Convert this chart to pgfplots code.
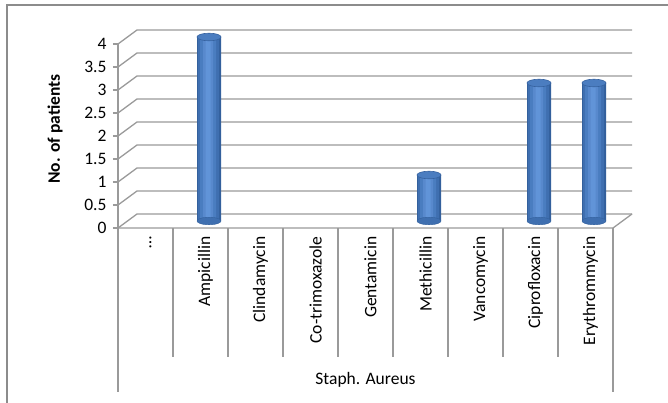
\documentclass[border=0pt]{standalone}
\usepackage{fontspec}
\setmainfont{Carlito}
\usepackage{pgfplots}
\usepackage{pgfplotstable}
\pgfplotsset{compat=1.18}
\definecolor{gridc}{HTML}{9A9A9A}
\definecolor{framec}{HTML}{8C8C8C}
\definecolor{cyl1}{HTML}{33609C}
\definecolor{cyl2}{HTML}{3F6FB0}
\definecolor{cyl3}{HTML}{4A7DC0}
\definecolor{cyl4}{HTML}{5889CD}
\definecolor{cyl5}{HTML}{6194D8}
\definecolor{cylT}{HTML}{4B7DC0}
\definecolor{cylE}{HTML}{36629F}
\pgfdeclareplotmark{cyltop}{\pgfpathellipse{\pgfpointorigin}{\pgfqpoint{12bp}{0pt}}{\pgfqpoint{0pt}{3.8bp}}\pgfusepathqfillstroke}
\newcommand{\cfont}{\fontsize{17.5bp}{21bp}\selectfont}

\pgfplotstableread{
x y
0.5 0
1.5 4
2.5 0
3.5 0
4.5 0
5.5 1
6.5 0
7.5 3
8.5 3
}\datatable

\begin{document}
\begin{tikzpicture}[font=\cfont]
\begin{axis}[
  x=55bp, y=46bp, scale only axis,
  xmin=0, xmax=9.35, ymin=0, ymax=4.3,
  axis line style={draw=none},
  clip=false,
  /pgf/number format/assume math mode=true,
  tick label style={font=\cfont},
  label style={font=\cfont},
  ytick={0,0.5,1,1.5,2,2.5,3,3.5,4},
  yticklabels={0,0.5,1,1.5,2,2.5,3,3.5,4},
  ytick pos=left,
  y tick style={gridc, line width=1.2bp},
  tick align=outside, major tick length=5bp,
  yticklabel style={xshift=-3bp},
  xtick={0.5,1.5,2.5,3.5,4.5,5.5,6.5,7.5,8.5},
  xticklabels={{\ldots},Ampicillin,Clindamycin,Co-trimoxazole,Gentamicin,Methicillin,Vancomycin,Ciprofloxacin,Erythrommycin},
  xtick pos=left,
  x tick style={draw=none},
  xticklabel style={rotate=90, anchor=east, yshift=-5bp},
  ylabel={\bfseries No. of patients},
  ylabel style={at={([xshift=-63bp]rel axis cs:0,0.5)}, anchor=center},
  cyl/.style={ybar, draw=none, yshift=7bp},
]
\coordinate (O) at (axis cs:0,0);
% back/side gridlines
\pgfplotsinvokeforeach{0,0.5,1,1.5,2,2.5,3,3.5,4}{
  \draw[gridc, line width=1.3bp] (axis cs:0,#1) -- ++(19bp,14bp) -- ++(495bp,0);
}
% front axis and floor
\draw[gridc, line width=1.3bp] (axis cs:0,4) -- (axis cs:0,-3.57);
\draw[gridc, line width=1.3bp] (axis cs:0,0) -- (axis cs:9,0) -- ++(19bp,14bp);
\draw[gridc, line width=1.3bp] (axis cs:9,0) -- (axis cs:9,-3.57);
\pgfplotsinvokeforeach{1,2,3,4,5,6,7,8}{
  \draw[gridc, line width=1.3bp] (axis cs:#1,0) -- (axis cs:#1,-2.8);
}
\node at (axis cs:4.5,-3.3) {Staph. Aureus};

% cylinders (bottom cap, layered body for shading, top cap)
\addplot[only marks, mark=cyltop, mark options={fill=cyl2, draw=cyl1}, xshift=8.5bp, yshift=7bp]
  table[x=x, y expr={\thisrow{y}==0 ? nan : 0}] \datatable;
\addplot[cyl, bar width=24bp, fill=cyl1, xshift=8.5bp]
  table[x=x, y expr={\thisrow{y}==0 ? nan : \thisrow{y}}] \datatable;
\addplot[cyl, bar width=21bp, fill=cyl2, xshift=8.0bp]
  table[x=x, y expr={\thisrow{y}==0 ? nan : \thisrow{y}}] \datatable;
\addplot[cyl, bar width=16bp, fill=cyl3, xshift=7.5bp]
  table[x=x, y expr={\thisrow{y}==0 ? nan : \thisrow{y}}] \datatable;
\addplot[cyl, bar width=10bp, fill=cyl4, xshift=7.5bp]
  table[x=x, y expr={\thisrow{y}==0 ? nan : \thisrow{y}}] \datatable;
\addplot[cyl, bar width=5bp, fill=cyl5, xshift=7.5bp]
  table[x=x, y expr={\thisrow{y}==0 ? nan : \thisrow{y}}] \datatable;
\addplot[only marks, mark=cyltop, mark options={fill=cylT, draw=cylE, line width=0.6bp}, xshift=8.5bp, yshift=7bp]
  table[x=x, y expr={\thisrow{y}==0 ? nan : \thisrow{y}}] \datatable;
\end{axis}
\draw[framec, line width=1.5bp] (O) ++(-111bp,-175bp) -- ++(0,398bp) -- ++(661bp,0);
\pgfresetboundingbox
\path[use as bounding box] (O) ++(-118bp,-175bp) rectangle ++(668bp,403bp);
\end{tikzpicture}
\end{document}
